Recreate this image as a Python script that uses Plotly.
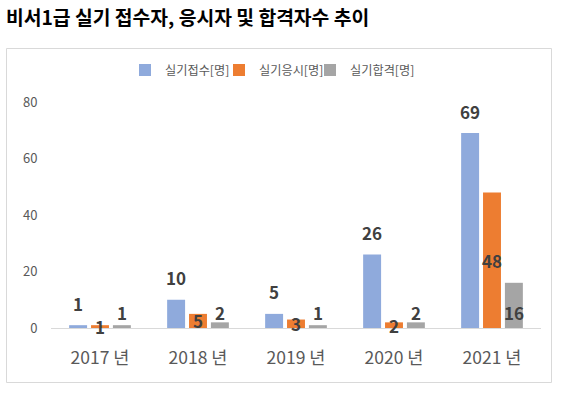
import plotly.graph_objects as go

categories = ["2017 년", "2018 년", "2019 년", "2020 년", "2021 년"]
series_names = ["실기접수[명]", "실기응시[명]", "실기합격[명]"]
applied = [1, 10, 5, 26, 69]
taken = [1, 5, 3, 2, 48]
passed = [1, 2, 1, 2, 16]
y_ticks = [0, 20, 40, 60, 80]
title_text = "비서1급 실기 접수자, 응시자 및 합격자수 추이"

colors = ["#8FAADC", "#ED7D31", "#A5A5A5"]
FONT = "Noto Sans CJK KR"
W, H = 562, 395
L, R, T, B = 51, 21, 102, 67

legend_ids = ["legend", "legend2", "legend3"]
legend_left = [125, 219, 310]

fig = go.Figure()
for name, vals, c, lid in zip(series_names, [applied, taken, passed], colors, legend_ids):
    fig.add_trace(go.Bar(x=categories, y=vals, name=name, marker_color=c,
                         marker_line_width=0, hoverinfo="skip", legend=lid))

label_font = dict(family=FONT, size=17, color="#404040", weight="bold")
annotations = []
for cat, v in zip(categories, applied):
    annotations.append(dict(x=cat, y=v, xref="x", yref="y", text=str(v), showarrow=False,
                            xshift=-22, yshift=22, yanchor="middle", font=label_font))
for cat, v in zip(categories, taken):
    annotations.append(dict(x=cat, y=v / 2, xref="x", yref="y", text=str(v), showarrow=False,
                            xshift=0, yshift=0, yanchor="middle", font=label_font))
for cat, v in zip(categories, passed):
    annotations.append(dict(x=cat, y=0, xref="x", yref="y", text=str(v), showarrow=False,
                            xshift=22, yshift=16, yanchor="middle", font=label_font))

pw = W - L - R
ph = H - T - B
def px_x(x):
    return (x - L) / pw
def px_y(y):
    return (H - B - y) / ph

shapes = [dict(type="rect", xref="paper", yref="paper",
               x0=px_x(6.5), x1=px_x(551.5), y0=px_y(382.5), y1=px_y(48.5),
               line=dict(color="#D9D9D9", width=1), fillcolor="rgba(0,0,0,0)", layer="below")]

legend_layouts = {}
for lid, lx in zip(legend_ids, legend_left):
    legend_layouts[lid] = dict(orientation="h", x=lx / W, xanchor="left", xref="container",
                               y=1 - 70 / H, yref="container", yanchor="middle",
                               font=dict(family=FONT, size=12.2, color="#595959"),
                               itemwidth=30, bgcolor="rgba(0,0,0,0)")

fig.update_layout(
    width=W, height=H,
    margin=dict(l=L, r=R, t=T, b=B, autoexpand=False),
    paper_bgcolor="white", plot_bgcolor="white",
    font=dict(family=FONT, color="#595959"),
    title=dict(text=title_text, xref="container", yref="container", x=6 / W, xanchor="left",
               y=1 - 18 / H, yanchor="middle", automargin=False,
               font=dict(family=FONT, size=19.3, color="#000000", weight="bold")),
    barmode="group", bargap=0.33, bargroupgap=0.18,
    xaxis=dict(showgrid=False, showline=True, linecolor="#D9D9D9", linewidth=1,
               ticks="outside", ticklen=14, tickcolor="rgba(0,0,0,0)", automargin=False,
               tickfont=dict(family=FONT, size=17.5, color="#595959"), fixedrange=True),
    yaxis=dict(range=[0, 80], tickvals=y_ticks, showgrid=False, zeroline=False, showline=False,
               ticks="outside", ticklen=10, tickcolor="rgba(0,0,0,0)", automargin=False,
               tickfont=dict(family=FONT, size=13, color="#595959"), fixedrange=True),
    annotations=annotations,
    shapes=shapes,
    showlegend=True,
    **legend_layouts,
)

fig.write_html("out.html", config={"displayModeBar": False},
               post_script="document.body.style.margin='0px';")
